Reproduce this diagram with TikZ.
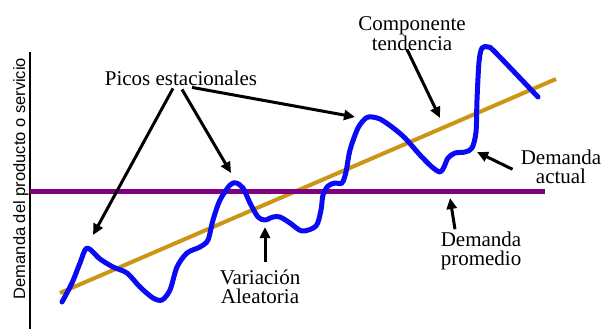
\documentclass[tikz,border=0pt]{standalone}
\usepackage{fontspec}
\setmainfont{Liberation Serif}
\newfontfamily\axisfont{Liberation Sans}
\usetikzlibrary{arrows.meta, calc, positioning}
\definecolor{tendcolor}{RGB}{204,150,20}
\definecolor{promcolor}{RGB}{128,0,128}
\definecolor{realcolor}{RGB}{10,10,245}

\begin{document}
\begin{tikzpicture}[x=1pt,y=-1pt]
\tikzstyle{tag}=[align=center,inner sep=1pt,font=\fontsize{21}{19}\selectfont]
\tikzstyle{pointer}=[-{Triangle[length=11pt,width=10pt]},line width=3pt]

\useasboundingbox (0,0) rectangle (603,329);

% axis and its label
\draw[line width=2.5pt] (30,52) -- (30,329);
\node[rotate=90, anchor=base, inner sep=0pt, font=\axisfont\fontsize{16.5}{18}\selectfont] (ylabel) at (25,178.5) {Demanda del producto o servicio};

% trend and average
\draw[tendcolor, line width=4pt] (60,293) -- (556,79);
\draw[promcolor, line width=5pt] (30,191) -- (545,191);

% actual demand
\draw[realcolor, line width=5pt, line join=round, line cap=round]
  plot[smooth, tension=0.5] coordinates {
  (62,302) (72,283) (80,263) (87,248) (100,259) (113,267) (127,273) (140,287)
  (153,298) (162,300) (170,290) (177,267) (187,253) (200,247) (208,240)
  (213,220) (220,200) (230,185) (236,183) (243,188) (250,203) (258,217)
  (265,220) (273,217) (280,217) (290,223) (302,231) (316,226) (321,210)
  (323,195) (328,186) (335,183) (342,183) (346,172) (350,150) (358,128)
  (366,118) (372,117) (380,119) (392,127) (405,138) (420,155) (432,167)
  (440,172) (444,167) (448,158) (455,153) (465,152) (472,148) (476,132)
  (477,100) (479,62) (482,48) (488,47) (495,52) (538,97)};

% arrow targets
\coordinate (peak1) at (93,235);
\coordinate (peak2) at (231,173);
\coordinate (peak3) at (355,117);
\coordinate (trend) at (440,118);
\coordinate (real) at (477,152);
\coordinate (avg) at (450,198);
\coordinate (noise) at (265,227);

% labels
\node[tag, anchor=base] (picos) at (181,85) {Picos estacionales};
\node[tag, anchor=base] (comp) at (412,51) {Componente\\tendencia};
\node[tag, anchor=base] (actual) at (561,183) {Demanda\\actual};
\node[tag, anchor=base] (prom) at (481,265) {Demanda\\promedio};
\node[tag, anchor=base] (var) at (260,303) {Variaci\'on\\Aleatoria};

% pointers
\draw[pointer] ($(picos.south)+(-8,2)$) -- (peak1);
\draw[pointer] ($(picos.south)+(1,3)$) -- (peak2);
\draw[pointer] ($(picos.south)+(11,1)$) -- (peak3);
\draw[pointer] ($(comp.south)+(-5,-3)$) -- (trend);
\draw[pointer] ($(actual.west)+(-7,3)$) -- (real);
\draw[pointer] ($(prom.north)+(-26,-1)$) -- (avg);
\draw[pointer] ($(var.north)+(5,-6)$) -- (noise);
\end{tikzpicture}
\end{document}
